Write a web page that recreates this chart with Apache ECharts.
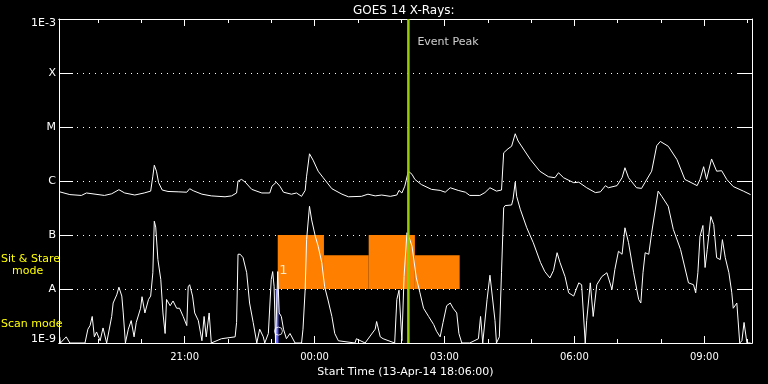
<!DOCTYPE html>
<html><head><meta charset="utf-8">
<script src="https://cdn.jsdelivr.net/npm/echarts@6/dist/echarts.min.js"></script>
<style>html,body{margin:0;padding:0;background:#000;}#c{width:768px;height:384px;}</style>
</head><body><div id="c"></div>
<script>
// ---- data (time = minutes after 13-Apr-14 18:06:00, flux in W/m^2) ----
const titleText = 'GOES 14 X-Rays:';
const startLabel = 'Start Time (13-Apr-14 18:06:00)';
const startClock = 18 * 60 + 6;
const spanMinutes = 960;
const majorTicks = [174, 354, 534, 714, 894];
const minorTicks = [54, 114, 174, 234, 294, 354, 414, 474, 534, 594, 654, 714, 774, 834, 894, 954];
const levelNames = ['1E-9', 'A', 'B', 'C', 'M', 'X', '1E-3'];
const levelValues = [1e-9, 1e-8, 1e-7, 1e-6, 1e-5, 1e-4, 1e-3];

const longTime = [1,15,31,38,63,73,83,91,105,118,127,130,132,135,138,143,151,165,177,181,186,198,211,230,239,246,248,253,258,267,281,292,295,301,306,311,322,329,336,341,343,347,352,359,366,378,392,401,419,428,438,447,459,468,471,475,479,484,489,493,502,516,528,535,542,553,563,569,583,590,597,606,613,616,622,627,632,636,653,666,678,687,692,699,713,720,731,743,750,757,761,773,780,784,789,800,807,812,821,828,833,844,856,867,884,888,893,897,904,911,918,925,934,948,958];
const longFlux = [6.3e-7,5.6e-7,5.4e-7,6.0e-7,5.4e-7,5.8e-7,6.9e-7,6.0e-7,5.5e-7,6.0e-7,6.5e-7,1.23e-6,1.96e-6,1.52e-6,9.3e-7,6.8e-7,6.4e-7,6.3e-7,6.2e-7,7.2e-7,6.6e-7,5.7e-7,5.3e-7,5.1e-7,5.3e-7,6.0e-7,1.0e-6,1.07e-6,9.5e-7,7.0e-7,6.0e-7,6.0e-7,8.0e-7,9.5e-7,8.0e-7,6.2e-7,5.7e-7,6.0e-7,5.2e-7,6.7e-7,1.23e-6,3.19e-6,2.43e-6,1.52e-6,1.15e-6,7.2e-7,5.7e-7,5.1e-7,5.2e-7,5.7e-7,5.3e-7,5.5e-7,5.2e-7,5.5e-7,6.7e-7,6.0e-7,8.0e-7,1.52e-6,1.33e-6,1.07e-6,8.6e-7,7.0e-7,6.7e-7,6.2e-7,7.5e-7,6.7e-7,6.2e-7,5.4e-7,5.4e-7,6.1e-7,7.5e-7,6.5e-7,6.8e-7,3.33e-6,3.95e-6,4.4e-6,7.5e-6,5.5e-6,2.5e-6,1.52e-6,1.2e-6,1.15e-6,1.42e-6,1.15e-6,9.3e-7,9.5e-7,7.5e-7,6.1e-7,6.3e-7,8.2e-7,7.5e-7,8.2e-7,1.15e-6,1.76e-6,1.15e-6,7.5e-7,7.3e-7,9.5e-7,1.52e-6,4.5e-6,5.4e-6,4.4e-6,2.5e-6,1.07e-6,8.2e-7,1.07e-6,1.84e-6,1.07e-6,2.56e-6,1.52e-6,1.55e-6,1.07e-6,7.9e-7,6.5e-7,5.6e-7];

const shortTime = [1,2,10,15,36,40,43,46,49,52,57,61,66,73,75,80,83,87,89,92,96,100,104,107,113,115,119,124,127,130,132,134,137,141,144,147,149,154,158,163,167,172,177,179,181,185,188,193,198,201,204,208,211,225,244,246,248,251,255,260,264,269,274,278,283,285,290,294,296,298,300,303,305,308,311,315,320,327,336,338,341,343,347,350,355,359,364,368,373,378,382,387,410,412,424,438,440,445,449,465,468,471,475,478,482,485,489,495,500,505,512,519,523,528,532,537,542,546,551,554,558,569,581,584,587,593,597,599,604,606,610,613,616,618,627,629,632,634,639,648,657,667,673,680,685,690,694,701,706,713,720,724,729,731,736,740,745,752,759,766,770,775,780,784,789,796,803,806,809,812,817,821,830,835,844,851,861,872,879,882,885,888,892,895,898,903,907,911,916,919,923,928,932,934,939,943,946,949,953,958];
const shortFlux = [1.3e-9,1.0e-9,1.3e-9,1.0e-9,1.0e-9,1.8e-9,2.1e-9,3.1e-9,1.3e-9,1.6e-9,1.1e-9,1.9e-9,1.0e-9,3.1e-9,5.5e-9,7.8e-9,1.08e-8,7.4e-9,3.6e-9,1.0e-9,1.8e-9,2.6e-9,1.3e-9,2.4e-9,4.4e-9,7.2e-9,3.6e-9,6.4e-9,7.4e-9,2.0e-8,1.8e-7,1.4e-7,3.5e-8,1.5e-8,3.6e-9,1.5e-9,6.4e-9,4.9e-9,6.0e-9,4.4e-9,4.4e-9,3.1e-9,2.1e-9,1.1e-8,1.2e-8,7.4e-9,3.6e-9,2.6e-9,1.1e-9,3.1e-9,1.3e-9,3.6e-9,1.0e-9,1.2e-9,1.3e-9,2.4e-9,4.4e-8,4.4e-8,3.8e-8,2.0e-8,5.5e-9,2.4e-9,1.0e-9,1.8e-9,1.3e-9,1.0e-9,1.5e-9,1.5e-8,2.1e-8,1.1e-8,1.0e-9,2.1e-8,3.6e-9,3.1e-9,1.8e-9,1.2e-9,1.5e-9,1.0e-9,1.0e-9,1.8e-9,9.8e-9,8.2e-8,3.4e-7,1.9e-7,9.5e-8,6.2e-8,3.1e-8,1.1e-8,6.0e-9,3.1e-9,1.5e-9,1.1e-9,1.0e-9,1.2e-9,1.0e-9,1.8e-9,2.5e-9,1.3e-9,1.2e-9,1.0e-9,6.4e-9,9.5e-9,1.1e-9,1.7e-8,1.1e-7,9.0e-8,6.2e-8,1.6e-8,8.5e-9,4.4e-9,3.1e-9,2.2e-9,1.65e-9,1.3e-9,2.4e-9,4.9e-9,5.5e-9,4.4e-9,3.6e-9,1.5e-9,1.0e-9,1.0e-9,1.2e-9,3.1e-9,1.0e-9,6.4e-9,1.8e-8,1.7e-8,2.6e-9,1.0e-9,1.3e-9,2.0e-8,3.2e-7,3.5e-7,3.6e-7,4.6e-7,9.5e-7,5.2e-7,3.0e-7,1.36e-7,7.2e-8,3.1e-8,2.1e-8,1.6e-8,2.2e-8,4.7e-8,3.1e-8,1.7e-8,8.5e-9,7.4e-9,1.3e-8,1.2e-8,1.0e-9,2.6e-9,1.3e-8,3.1e-9,1.2e-8,1.7e-8,2.0e-8,9.8e-9,2.3e-8,5.0e-8,4.4e-8,1.36e-7,7.2e-8,2.0e-8,6.4e-9,5.5e-9,2.0e-8,4.7e-8,4.4e-8,1.1e-7,6.5e-7,5.2e-7,3.4e-7,1.27e-7,5.4e-8,1.3e-8,1.2e-8,8.5e-9,2.0e-8,9.5e-8,1.5e-7,2.5e-8,5.4e-8,2.2e-7,1.56e-7,3.8e-8,3.5e-8,8.2e-8,3.8e-8,2.0e-8,8.5e-9,4.4e-9,5.5e-9,1.0e-9,1.1e-9,2.4e-9,1.0e-9,1.0e-9];

// Sit & Stare mode blocks
const modeStart = [303, 367, 429, 493];
const modeEnd = [367, 429, 493, 555];
const modeTop = [1.0e-7, 4.2e-8, 1.0e-7, 4.2e-8];
const modeBase = 1.0e-8;
// Scan mode marker
const scanStart = 300, scanEnd = 304, scanBottom = 1.0e-9, scanTop = 1.0e-8;
const blockLabel = '1';
const blockLabelPos = [311, 2.15e-8];
const circlePos = [304, 1.66e-9];
// Event peak
const eventPeak = 484;
const eventLabel = 'Event Peak';
const eventLabelFlux = 3.7e-4;

// ---- chart ----
const FONT = 'DejaVu Sans';
const pad = n => (n < 10 ? '0' : '') + n;
const clock = m => { const t = startClock + Math.round(m); return pad(Math.floor(t / 60) % 24) + ':' + pad(t % 60); };
const zip = (a, b) => a.map((v, i) => [v, b[i]]);

const chart = echarts.init(document.getElementById('c'), null, {renderer: 'canvas'});

function xAxisDef(pos, len, ticks, withLabel) {
  return {
    type: 'value', min: 0, max: spanMinutes, position: pos,
    splitLine: {show: false},
    axisLine: {show: true, onZero: false, lineStyle: {color: '#fff', width: 1}},
    axisTick: {show: true, inside: true, length: len, customValues: ticks, lineStyle: {color: '#fff', width: 1}},
    axisLabel: withLabel
      ? {show: true, customValues: ticks, formatter: v => clock(v), color: '#fff', fontFamily: FONT, fontSize: 10, margin: 9}
      : {show: false},
    name: withLabel ? startLabel : '', nameLocation: 'middle', nameGap: 21,
    nameTextStyle: {color: '#fff', fontFamily: FONT, fontSize: 11}
  };
}
function yAxisDef(pos, withLabel) {
  return {
    type: 'log', logBase: 10, min: 1e-9, max: 1e-3, position: pos,
    axisLine: {show: true, onZero: false, lineStyle: {color: '#fff', width: 1}},
    axisTick: {show: true, inside: true, length: 14, lineStyle: {color: '#fff', width: 1}},
    axisLabel: withLabel ? {show: true, color: '#fff', fontFamily: FONT, fontSize: 11, margin: 3,
      formatter: v => {
        const k = Math.round(Math.log10(v)) + 9;
        if (k === 6) return '{top|' + levelNames[k] + '}';
        if (k === 0) return '{bot|' + levelNames[k] + '}';
        return levelNames[k];
      },
      rich: {top: {padding: [9, 0, 0, 0], color: '#fff', fontFamily: FONT, fontSize: 11},
             bot: {padding: [0, 0, 7, 0], color: '#fff', fontFamily: FONT, fontSize: 11}}} : {show: false},
    splitLine: {show: withLabel, lineStyle: {color: '#fff', width: 1, type: [1, 5]}}
  };
}

function rectItem(params, api) {
  const p0 = api.coord([api.value(0), api.value(2)]);
  const p1 = api.coord([api.value(1), api.value(3)]);
  return {type: 'rect', shape: {x: p0[0], y: p0[1], width: p1[0] - p0[0], height: p1[1] - p0[1]},
    style: {fill: api.visual('color')}};
}
// inward tick marks on the left frame, placed through the axis scale
function leftTickItem(params, api) {
  const p = api.coord([0, api.value(0)]);
  const y = Math.round(p[1]) + 0.5;
  return {type: 'line', shape: {x1: p[0], y1: y, x2: p[0] + 14, y2: y},
    style: {stroke: '#fff', lineWidth: 1}};
}

chart.setOption({
  animation: false,
  backgroundColor: '#000',
  title: {text: titleText, left: 348, top: 0, textStyle: {color: '#fff', fontFamily: FONT, fontSize: 12, fontWeight: 'normal'}},
  grid: {left: 59, right: 16, top: 19, bottom: 41, containLabel: false},
  xAxis: [xAxisDef('bottom', 7, majorTicks, true), xAxisDef('bottom', 4, minorTicks, false),
          xAxisDef('top', 7, majorTicks, false), xAxisDef('top', 4, minorTicks, false)],
  yAxis: [yAxisDef('left', true), yAxisDef('right', false)],
  graphic: [
    {type: 'text', left: 1, top: 254, style: {text: 'Sit & Stare', fill: '#ffff00', font: '11px "DejaVu Sans"'}},
    {type: 'text', left: 12, top: 266, style: {text: 'mode', fill: '#ffff00', font: '11px "DejaVu Sans"'}},
    {type: 'text', left: 1, top: 319, style: {text: 'Scan mode', fill: '#ffff00', font: '11px "DejaVu Sans"'}}
  ],
  series: [
    {type: 'custom', name: 'leftTicks', renderItem: leftTickItem, clip: false, z: 7, silent: true,
      encode: {x: -1, y: 0}, data: levelValues.map(v => [v])},
    {type: 'custom', name: 'mode', renderItem: rectItem, itemStyle: {color: '#ff8000'}, z: 1,
      data: modeStart.map((s, i) => [s, modeEnd[i], modeTop[i], modeBase])},
    {type: 'custom', name: 'scan', renderItem: rectItem, itemStyle: {color: '#6060ff'}, z: 1,
      data: [[scanStart, scanEnd, scanTop, scanBottom]]},
    {type: 'line', name: 'long', data: zip(longTime, longFlux), showSymbol: false, symbol: 'none',
      lineStyle: {color: '#fff', width: 1}, z: 3},
    {type: 'line', name: 'short', data: zip(shortTime, shortFlux), showSymbol: false, symbol: 'none',
      lineStyle: {color: '#fff', width: 1}, z: 3},
    {type: 'line', name: 'peak', data: [[eventPeak, 1e-9], [eventPeak, 1e-3]], showSymbol: false, symbol: 'none',
      lineStyle: {color: '#99cc00', width: 2.5}, z: 5},
    {type: 'scatter', name: 'labels', symbolSize: 0, z: 6,
      data: [
        {value: [eventPeak, eventLabelFlux], label: {show: true, position: 'right', distance: 9, formatter: eventLabel, color: '#fff', fontFamily: FONT, fontSize: 11}},
        {value: blockLabelPos, label: {show: true, position: 'inside', formatter: blockLabel, color: '#ffffff', fontFamily: FONT, fontSize: 13}}
      ]},
    {type: 'scatter', name: 'circle', symbol: 'circle', symbolSize: 8, z: 6,
      itemStyle: {color: 'rgba(0,0,0,0)', borderColor: '#fff', borderWidth: 1}, data: [circlePos]}
  ]
});
</script></body></html>
